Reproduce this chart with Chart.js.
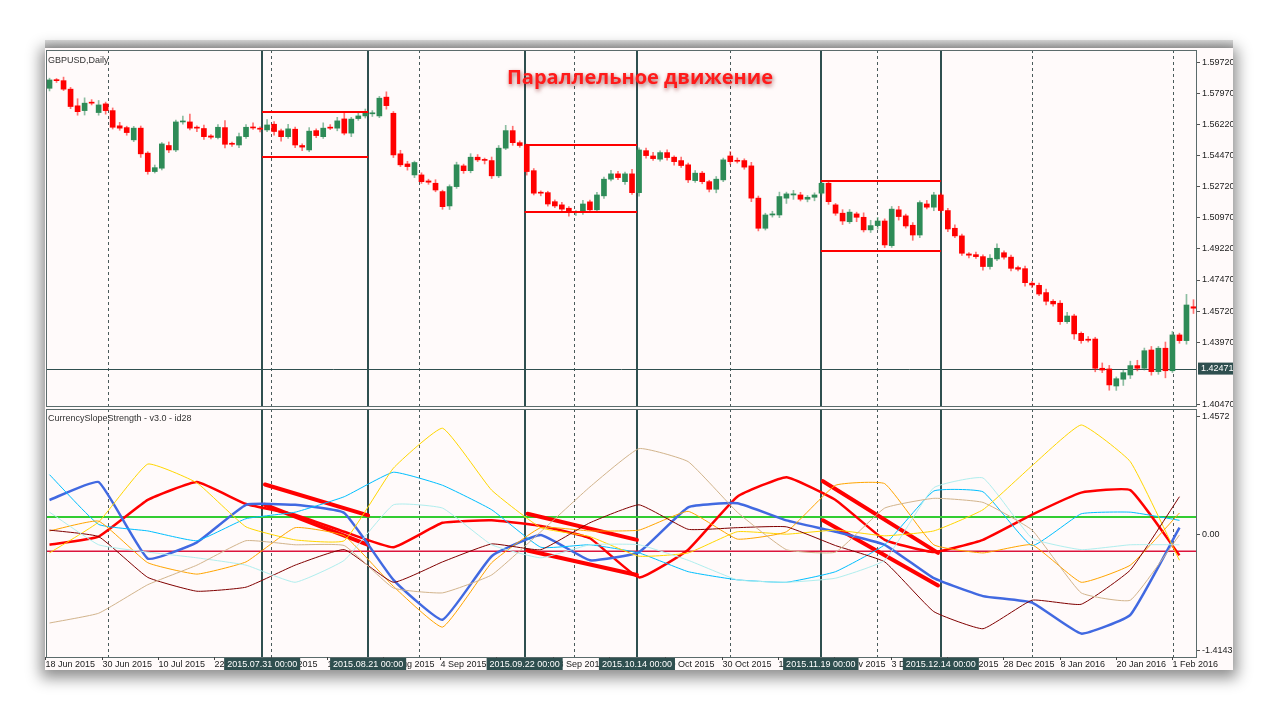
<!DOCTYPE html>
<html><head><meta charset="utf-8">
<script src="https://cdn.jsdelivr.net/npm/chart.js@4/dist/chart.umd.min.js"></script>
<style>
html,body{margin:0;padding:0;background:#fff;width:1280px;height:720px;overflow:hidden}
#win{position:absolute;left:45px;top:48px;width:1188px;height:622px;background:#fff;box-shadow:0 4px 14px 4px rgba(0,0,0,0.45)}
#bar{position:absolute;left:45px;top:40px;width:1188px;height:8px;background:linear-gradient(#ddd,#bbb)}
canvas{position:absolute}
#c1{left:45px;top:48px}
#c2{left:45px;top:408px}
</style></head><body>
<div id="bar"></div><div id="win"></div>
<canvas id="c1" width="1188" height="360"></canvas>
<canvas id="c2" width="1188" height="262"></canvas>
<script>
// ---------- DATA ----------
const opens = [1.5829,1.5876,1.5872,1.5824,1.5730,1.5703,1.5750,1.5692,1.5741,1.5703,1.5617,1.5607,1.5538,1.5604,1.5463,1.5359,1.5378,1.5506,1.5481,1.5639,
1.5639,1.5607,1.5602,1.5560,1.5551,1.5607,1.5515,1.5509,1.5556,1.5609,1.5602,1.5594,1.5626,1.5589,1.5556,1.5598,1.5506,1.5481,1.5590,1.5556,
1.5609,1.5604,1.5656,1.5576,1.5658,1.5673,1.5685,1.5673,1.5779,1.5688,1.5459,1.5402,1.5340,1.5340,1.5306,1.5293,1.5246,1.5165,1.5274,1.5391,
1.5364,1.5440,1.5425,1.5421,1.5335,1.5491,1.5590,1.5522,1.5506,1.5364,1.5240,1.5240,1.5189,1.5171,1.5152,1.5127,1.5127,1.5188,1.5143,1.5222,
1.5316,1.5346,1.5302,1.5346,1.5240,1.5477,1.5447,1.5429,1.5466,1.5440,1.5421,1.5397,1.5308,1.5350,1.5302,1.5259,1.5312,1.5447,1.5421,1.5421,
1.5391,1.5209,1.5039,1.5114,1.5114,1.5209,1.5227,1.5227,1.5203,1.5214,1.5237,1.5293,1.5171,1.5124,1.5076,1.5120,1.5101,1.5030,1.5054,1.5080,
1.4941,1.5143,1.5109,1.5056,1.5001,1.5176,1.5158,1.5227,1.5139,1.5039,1.4996,1.4894,1.4890,1.4879,1.4823,1.4866,1.4901,1.4876,1.4817,1.4811,
1.4729,1.4717,1.4676,1.4627,1.4616,1.4512,1.4544,1.4446,1.4413,1.4414,1.4249,1.4245,1.4149,1.4187,1.4211,1.4264,1.4249,1.4352,1.4230,1.4362,
1.4235,1.4437,1.4405,1.4596];
const closes = [1.5876,1.5872,1.5824,1.5726,1.5697,1.5745,1.5745,1.5735,1.5703,1.5609,1.5604,1.5579,1.5604,1.5459,1.5359,1.5381,1.5515,1.5481,1.5639,1.5642,
1.5604,1.5604,1.5556,1.5553,1.5609,1.5513,1.5513,1.5556,1.5609,1.5605,1.5598,1.5622,1.5585,1.5556,1.5600,1.5509,1.5497,1.5587,1.5562,1.5604,
1.5604,1.5645,1.5576,1.5655,1.5673,1.5692,1.5688,1.5773,1.5731,1.5453,1.5397,1.5387,1.5410,1.5302,1.5299,1.5255,1.5161,1.5274,1.5397,1.5364,
1.5440,1.5425,1.5422,1.5335,1.5491,1.5590,1.5522,1.5506,1.5359,1.5237,1.5237,1.5176,1.5165,1.5147,1.5127,1.5131,1.5176,1.5143,1.5227,1.5316,
1.5346,1.5325,1.5346,1.5240,1.5481,1.5449,1.5432,1.5466,1.5438,1.5415,1.5393,1.5312,1.5350,1.5302,1.5259,1.5316,1.5425,1.5415,1.5417,1.5384,
1.5209,1.5039,1.5114,1.5120,1.5218,1.5233,1.5233,1.5203,1.5214,1.5227,1.5293,1.5189,1.5124,1.5080,1.5130,1.5101,1.5030,1.5054,1.5080,1.4945,
1.5147,1.5105,1.5052,1.5001,1.5184,1.5158,1.5227,1.5139,1.5035,1.4996,1.4898,1.4887,1.4879,1.4823,1.4870,1.4926,1.4876,1.4813,1.4808,1.4732,
1.4719,1.4668,1.4627,1.4612,1.4512,1.4544,1.4443,1.4405,1.4407,1.4249,1.4239,1.4155,1.4190,1.4224,1.4264,1.4249,1.4348,1.4230,1.4362,1.4235,
1.4437,1.4405,1.4606,1.4588];
// wick extensions in pips
const wickUp = [10,8,20,10,40,30,15,25,10,15,20,8,10,12,8,15,8,20,10,30,
45,10,20,8,15,40,10,20,15,25,10,30,15,10,25,12,10,20,10,30,
15,20,35,10,25,20,15,10,30,10,20,15,8,12,10,20,8,10,15,10,
20,15,10,20,15,30,25,10,8,12,10,8,10,15,10,8,20,10,15,12,
20,15,10,25,12,15,20,10,15,8,20,10,15,10,8,15,10,25,15,10,
20,12,10,15,25,10,20,15,10,12,15,10,8,20,15,10,25,30,20,12,
15,20,10,15,10,20,15,10,12,20,10,8,15,10,20,25,10,12,8,15,
10,12,20,10,15,20,10,8,15,10,30,20,10,15,25,30,15,20,10,35,
20,10,60,40];
const wickDn = [15,10,8,12,20,25,10,15,20,10,12,15,10,20,15,8,10,15,10,12,
10,20,15,10,8,20,12,15,10,8,15,10,20,25,10,15,20,10,12,10,
8,15,10,20,10,12,15,10,20,15,10,20,15,10,12,10,15,20,10,15,
12,10,20,15,10,8,15,10,20,10,15,12,10,15,20,15,10,12,10,15,
10,12,15,10,20,15,10,12,15,20,10,15,10,12,15,20,10,15,10,12,
20,15,10,12,15,30,25,10,15,20,10,15,12,20,10,25,12,15,20,15,
10,20,12,30,15,10,20,12,15,10,12,15,10,20,15,10,12,15,10,20,
15,10,20,12,15,10,30,15,10,20,15,30,25,35,20,15,10,20,15,40,
10,15,20,30];
// price axis ticks
const priceTicks = [1.5972,1.5797,1.5622,1.5447,1.5272,1.5097,1.4922,1.4747,1.4572,1.4397,1.4047];
const lastPrice = 1.42471;
const priceLine = 1.42447;
// vertical separators (solid) and period grid (dashed), in candle index units
const sepIdx = [30.3,45.4,67.7,83.7,109.9,127.0];
const sepLabels = ['2015.07.31 00:00','2015.08.21 00:00','2015.09.22 00:00','2015.10.14 00:00','2015.11.19 00:00','2015.12.14 00:00'];
const dashIdx = [8.3,31.5,52.6,74.7,96.9,117.9,140.0,160.1];
// price channel boxes
const boxFrom = [30.3,67.7,109.9];
const boxTo = [45.4,83.7,127.0];
const boxTop = [1.5695,1.5509,1.5306];
const boxBot = [1.5441,1.5131,1.4911];
// date axis
const dateTickStart = -0.6, dateTickStep = 8.03;
const dateLabels = ['18 Jun 2015','30 Jun 2015','10 Jul 2015','22 Jul 2015','3 Aug 2015','13 Aug 2015','25 Aug 2015','4 Sep 2015','16 Sep 2015','28 Sep 2015','8 Oct 2015','20 Oct 2015','30 Oct 2015','11 Nov 2015','23 Nov 2015','3 Dec 2015','15 Dec 2015','28 Dec 2015','8 Jan 2016','20 Jan 2016','1 Feb 2016'];
// indicator (sampled every 7 candles)
const indX = [0,7,14,21,28,35,42,49,56,63,70,77,84,91,98,105,112,119,126,133,140,147,154,161];
const sBlue   = [0.43,0.65,-0.29,-0.09,0.37,0.37,0.27,-0.55,-1.04,-0.26,0,-0.31,-0.21,0.34,0.39,0.18,0.04,-0.12,-0.53,-0.75,-0.83,-1.21,-0.98,0.09];
const sRed    = [-0.12,-0.02,0.43,0.65,0.38,0.25,0.04,-0.15,0.15,0.18,0.11,-0.04,-0.52,-0.18,0.47,0.71,0.43,-0.06,-0.21,-0.06,0.25,0.52,0.55,-0.25];
const sGold   = [-0.22,0.16,0.87,0.64,0.1,-0.06,-0.07,0.82,1.31,0.55,0.09,-0.02,-0.26,-0.22,0.04,0.01,0.06,-0.01,0.05,0.31,0.85,1.35,0.9,-0.31];
const sSky    = [0.74,0.13,0.05,-0.07,0.2,0.28,0.47,0.77,0.61,0.31,-0.15,-0.12,-0.22,-0.45,-0.55,-0.58,-0.45,-0.12,0.54,0.53,-0.13,0.26,0.28,0.18];
const sPale   = [0.28,-0.12,-0.21,-0.28,-0.37,-0.58,-0.31,0.37,0.33,-0.12,-0.28,-0.12,-0.12,-0.31,-0.55,-0.58,-0.53,-0.31,0.58,0.7,-0.04,-0.18,-0.12,-0.12];
const sOrange = [0.05,0.17,-0.34,-0.48,-0.33,0.09,-0.01,-0.63,-1.13,-0.34,0.09,0.05,0.06,0.29,-0.05,0.04,0.61,0.63,-0.12,-0.22,-0.12,-0.58,-0.37,0.27];
const sMaroon = [0.06,-0.02,-0.52,-0.69,-0.64,-0.37,-0.18,-0.58,-0.33,-0.11,-0.18,0.15,0.37,0.07,0.09,0.1,-0.13,-0.33,-0.94,-1.15,-0.8,-0.85,-0.43,0.47];
const sTan    = [-1.08,-0.96,-0.61,-0.37,-0.07,-0.12,-0.13,-0.65,-0.71,-0.49,0.04,0.59,1.06,0.9,0.28,-0.18,-0.21,0.33,0.45,0.4,0.06,-0.71,-0.8,0];
const levelHigh = 0.22, levelLow = -0.2;
const indTicks = [1.4572,0,-1.4143];
// slope channel lines: [x1,y1,x2,y2]
const slopeA = [[30.7,0.62,45.4,0.24],[68.1,0.26,83.7,-0.06],[110.2,0.66,126.6,-0.22]];
const slopeB = [[30.7,0.37,45.4,-0.12],[68.1,-0.19,83.7,-0.49],[110.2,0.18,126.6,-0.62]];

// ---------- HELPERS ----------
const N = opens.length;
const XMIN = -0.5, XMAX = N - 0.5;
const GREEN = '#2E8B57', RED = '#FF0000', DARK = '#2F4F4F';
const FF = '"Liberation Sans", Arial, sans-serif';
const FONT = '9px ' + FF;

function vlines(chart){
  const {ctx, chartArea:a, scales:{x}} = chart;
  ctx.save();
  ctx.strokeStyle = '#4a5a5a'; ctx.lineWidth = 1; ctx.setLineDash([3,3]);
  dashIdx.forEach(v=>{const p=Math.round(x.getPixelForValue(v))+0.5;ctx.beginPath();ctx.moveTo(p,a.top);ctx.lineTo(p,a.bottom);ctx.stroke();});
  ctx.setLineDash([]); ctx.strokeStyle = DARK; ctx.lineWidth = 2;
  sepIdx.forEach(v=>{const p=Math.round(x.getPixelForValue(v));ctx.beginPath();ctx.moveTo(p,a.top);ctx.lineTo(p,a.bottom);ctx.stroke();});
  ctx.restore();
}
function frame(chart){
  const {ctx, chartArea:a} = chart;
  ctx.save(); ctx.strokeStyle='#5b6b6b'; ctx.lineWidth=1;
  ctx.strokeRect(a.left+0.5,a.top+0.5,a.right-a.left-1,a.bottom-a.top);
  ctx.restore();
}
const bgPlugin = {id:'bg', beforeDraw(c){const {ctx}=c;ctx.save();ctx.fillStyle='#FFFAFA';ctx.fillRect(0,0,c.width,c.height);ctx.restore();}};
const yFit = s => { s.width = 36; s.paddingTop = 0; s.paddingBottom = 0; };

// ---------- TOP CHART ----------
const bodies = [], wicks = [], bodyCol = [], wickCol = [];
for(let i=0;i<N;i++){
  const o=opens[i], c=closes[i];
  bodies.push({x:i, y:[o,c]});
  wicks.push({x:i, y:[Math.min(o,c)-wickDn[i]/10000, Math.max(o,c)+wickUp[i]/10000]});
  const up = c>o;
  bodyCol.push(up?GREEN:RED);
  wickCol.push(up?'rgba(46,139,87,0.55)':'rgba(255,0,0,0.55)');
}
const topPlugin = {
  id:'top',
  beforeDatasetsDraw(chart){
    vlines(chart);
    const {ctx, chartArea:a, scales:{y}} = chart;
    ctx.save(); ctx.strokeStyle=DARK; ctx.lineWidth=1;
    const py=Math.round(y.getPixelForValue(priceLine))+0.5;
    ctx.beginPath();ctx.moveTo(a.left,py);ctx.lineTo(a.right,py);ctx.stroke();
    ctx.restore();
  },
  afterDatasetsDraw(chart){
    const {ctx, chartArea:a, scales:{x,y}} = chart;
    ctx.save(); ctx.strokeStyle=RED; ctx.lineWidth=2;
    for(let k=0;k<boxFrom.length;k++){
      const x1=x.getPixelForValue(boxFrom[k]), x2=x.getPixelForValue(boxTo[k]);
      [boxTop[k],boxBot[k]].forEach(v=>{const p=y.getPixelForValue(v);ctx.beginPath();ctx.moveTo(x1,p);ctx.lineTo(x2,p);ctx.stroke();});
    }
    ctx.restore();
    frame(chart);
    ctx.save();
    ctx.font=FONT; ctx.fillStyle='#333'; ctx.textBaseline='top';
    ctx.fillText('GBPUSD,Daily', a.left+2, a.top+6);
    ctx.font='bold 20px "Open Sans", "DejaVu Sans", sans-serif';
    ctx.textAlign='center'; ctx.textBaseline='middle';
    ctx.shadowColor='rgba(120,0,0,0.6)'; ctx.shadowBlur=4; ctx.shadowOffsetX=1; ctx.shadowOffsetY=2;
    ctx.fillStyle='#FF1A1A';
    ctx.fillText('Параллельное движение', 640-45, 78-48);
    ctx.restore();
    ctx.save();
    const py=y.getPixelForValue(lastPrice);
    ctx.fillStyle=DARK; ctx.fillRect(a.right+1,py-6,36,12);
    ctx.fillStyle='#fff'; ctx.font=FONT; ctx.textBaseline='middle';
    ctx.fillText(lastPrice.toFixed(5), a.right+4, py);
    ctx.restore();
  }
};
new Chart(document.getElementById('c1'), {
  type:'bar',
  data:{datasets:[
    {data:wicks, backgroundColor:wickCol, barThickness:1, grouped:false, order:2, minBarLength:1},
    {data:bodies, backgroundColor:bodyCol, barThickness:5, grouped:false, order:1, minBarLength:1}
  ]},
  options:{
    responsive:false, animation:false, devicePixelRatio:1,
    layout:{padding:{top:2,bottom:2,left:1,right:0}},
    plugins:{legend:{display:false}, tooltip:{enabled:false}},
    scales:{
      x:{type:'linear', min:XMIN, max:XMAX, display:false, offset:false, grid:{offset:false}},
      y:{position:'right', min:1.4036, max:1.6045,
        afterFit:yFit,
        afterBuildTicks(s){s.ticks=priceTicks.map(v=>({value:v}));},
        ticks:{font:{family:'Liberation Sans',size:9}, color:'#222', padding:2, callback:v=>Number(v).toFixed(5)},
        grid:{drawOnChartArea:false, drawTicks:true, tickLength:3, color:'#555'},
        border:{display:false}}
    }
  },
  plugins:[bgPlugin, topPlugin]
});

// ---------- BOTTOM CHART ----------
const pts = arr => indX.map((x,i)=>({x, y:arr[i]}));
const lineDs = (arr,color,w)=>({type:'line', data:pts(arr), borderColor:color, borderWidth:w, pointRadius:0, tension:0.12, fill:false});
const slopeDs = [];
slopeA.concat(slopeB).forEach(s=>slopeDs.push({type:'line', data:[{x:s[0],y:s[1]},{x:s[2],y:s[3]}], borderColor:RED, borderWidth:4, pointRadius:0, borderCapStyle:'round'}));
const botPlugin = {
  id:'bot',
  beforeDatasetsDraw(chart){
    vlines(chart);
    const {ctx, chartArea:a, scales:{y}} = chart;
    ctx.save();
    ctx.strokeStyle='#32CD32'; ctx.lineWidth=2;
    let p=y.getPixelForValue(levelHigh); ctx.beginPath();ctx.moveTo(a.left,p);ctx.lineTo(a.right,p);ctx.stroke();
    ctx.strokeStyle='#DC143C'; ctx.lineWidth=1.5;
    p=y.getPixelForValue(levelLow); ctx.beginPath();ctx.moveTo(a.left,p);ctx.lineTo(a.right,p);ctx.stroke();
    ctx.restore();
  },
  afterDatasetsDraw(chart){
    frame(chart);
    const {ctx, chartArea:a, scales:{x}} = chart;
    ctx.save();
    ctx.font=FONT; ctx.fillStyle='#333'; ctx.textBaseline='top';
    ctx.fillText('CurrencySlopeStrength - v3.0 - id28', a.left+2, a.top+5);
    ctx.beginPath(); ctx.rect(a.left-1,0,chart.width,chart.height); ctx.clip();
    ctx.strokeStyle='#444'; ctx.lineWidth=1;
    dateLabels.forEach((t,k)=>{
      const p=Math.round(x.getPixelForValue(dateTickStart+k*dateTickStep))+0.5;
      ctx.beginPath(); ctx.moveTo(p,a.bottom); ctx.lineTo(p,a.bottom+3); ctx.stroke();
      ctx.fillStyle='#222'; ctx.fillText(t, p, a.bottom+3);
    });
    sepLabels.forEach((t,k)=>{
      const p=x.getPixelForValue(sepIdx[k]);
      const w=ctx.measureText(t).width+6;
      ctx.fillStyle=DARK; ctx.fillRect(p-w/2, a.bottom+1, w, 12);
      ctx.fillStyle='#fff'; ctx.fillText(t, p-w/2+3, a.bottom+3);
    });
    ctx.restore();
  }
};
new Chart(document.getElementById('c2'), {
  type:'line',
  data:{datasets:[
    lineDs(sTan,'#D2B48C',1), lineDs(sPale,'#AFEEEE',1), lineDs(sMaroon,'#800000',1),
    lineDs(sOrange,'#FFA500',1), lineDs(sGold,'#FFD700',1), lineDs(sSky,'#00BFFF',1),
    lineDs(sBlue,'#4169E1',2.5), lineDs(sRed,'#FF0000',2.5), ...slopeDs
  ]},
  options:{
    responsive:false, animation:false, devicePixelRatio:1,
    layout:{padding:{top:1,bottom:13,left:1,right:0}},
    plugins:{legend:{display:false}, tooltip:{enabled:false}},
    scales:{
      x:{type:'linear', min:XMIN, max:XMAX, display:false, offset:false},
      y:{position:'right', min:-1.497, max:1.546,
        afterFit:yFit,
        afterBuildTicks(s){s.ticks=indTicks.map(v=>({value:v}));},
        ticks:{font:{family:'Liberation Sans',size:9}, color:'#222', padding:2, callback:v=>v===0?'0.00':Number(v).toFixed(4)},
        grid:{drawOnChartArea:false, drawTicks:true, tickLength:3, color:'#555'},
        border:{display:false}}
    }
  },
  plugins:[bgPlugin, botPlugin]
});
</script></body></html>
